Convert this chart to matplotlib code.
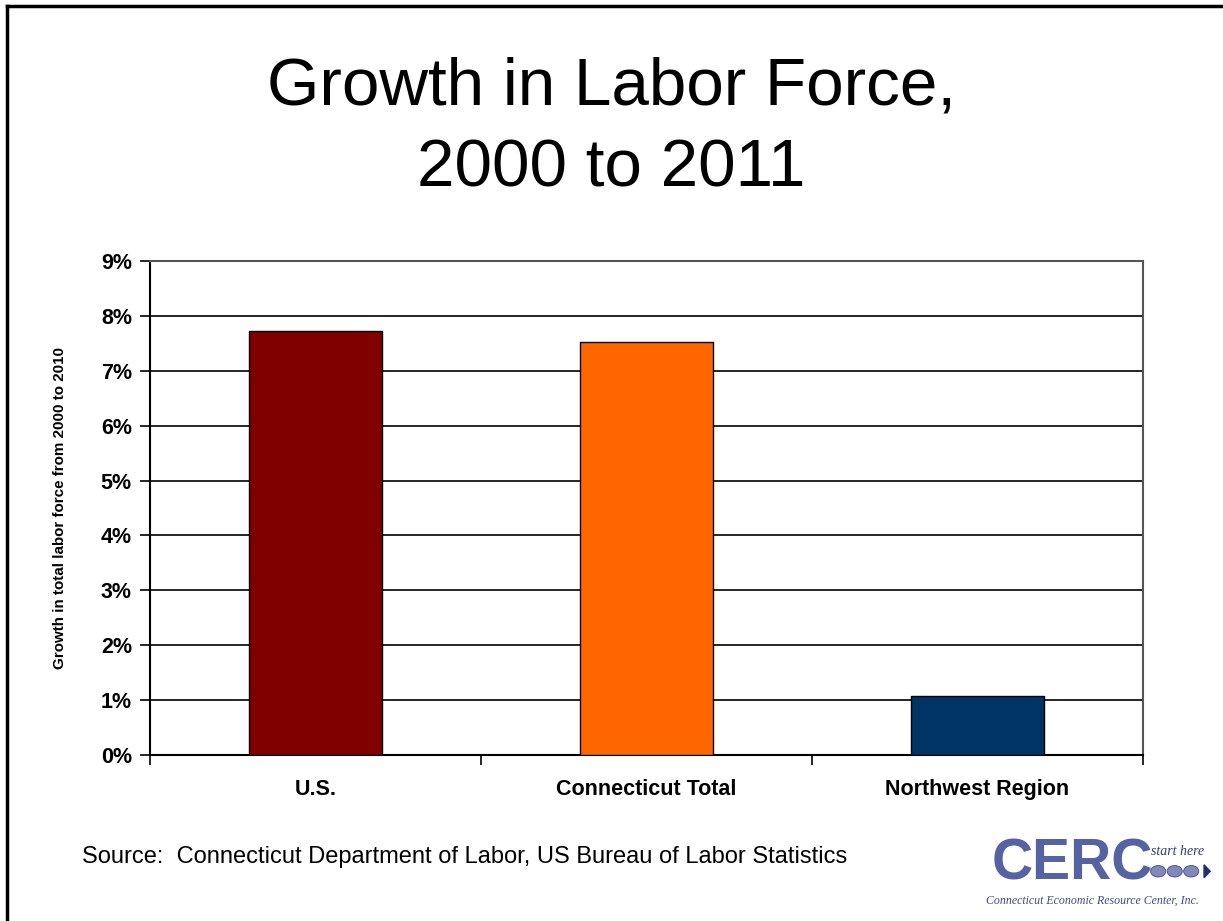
import matplotlib.pyplot as plt
import numpy as np
from matplotlib.lines import Line2D
from matplotlib.patches import Circle, Polygon

plt.rcParams["font.family"] = ["Liberation Sans", "DejaVu Sans"]

# data
categories = ["U.S.", "Connecticut Total", "Northwest Region"]
growth = [7.72, 7.52, 1.08]
bar_colors = ["#800000", "#FF6600", "#003366"]
yticks = np.arange(0, 10, 1)

fig = plt.figure(figsize=(12.23, 9.21), dpi=100)
fig.patch.set_facecolor("white")

# slide frame (left + top edges only are visible)
fig.add_artist(Line2D([0.0060, 0.0060], [0.0, 0.9935], transform=fig.transFigure, color="black", lw=2.5))
fig.add_artist(Line2D([0.0060, 1.0], [0.9935, 0.9935], transform=fig.transFigure, color="black", lw=2.5))

fig.text(0.5, 0.887, "Growth in Labor Force,", ha="center", va="baseline", fontsize=48.5)
fig.text(0.5, 0.797, "2000 to 2011", ha="center", va="baseline", fontsize=48.5)

ax = fig.add_axes([0.1226, 0.1802, 0.812, 0.5364])
x = np.arange(len(categories))
ax.bar(x, growth, width=0.40, color=bar_colors, edgecolor="black", linewidth=1.0, zorder=3)

ax.set_xlim(-0.5, len(categories) - 0.5)
ax.set_ylim(0, 9)
ax.set_yticks(yticks)
ax.set_yticklabels([f"{v}%" for v in yticks], fontsize=15.5, fontweight="bold")
ax.yaxis.grid(True, color="black", linewidth=1.2, zorder=0)
ax.set_axisbelow(True)

ax.set_xticks(x)
ax.set_xticklabels(categories, fontsize=15.5, fontweight="bold")
ax.tick_params(axis="x", length=0, pad=17)
ax.set_xticks(np.arange(-0.5, len(categories)), minor=True)
ax.tick_params(axis="x", which="minor", length=7, width=1.2, direction="out")
ax.tick_params(axis="y", length=7, width=1.2, direction="out", pad=6)

for s in ["left", "bottom"]:
    ax.spines[s].set_color("black")
    ax.spines[s].set_linewidth(1.5)
for s in ["top", "right"]:
    ax.spines[s].set_color("#555555")
    ax.spines[s].set_linewidth(1.5)

ax.set_ylabel("Growth in total labor force from 2000 to 2010", fontsize=10.9, fontweight="bold", labelpad=24)

fig.text(0.067, 0.069, "Source:  Connecticut Department of Labor, US Bureau of Labor Statistics",
         fontsize=17, ha="left", va="center")

# CERC logo, approximated with text and shapes
logo_blue = "#5563A3"
fig.text(0.811, 0.032, "CERC", fontsize=41, fontweight="bold", color=logo_blue,
         ha="left", va="bottom", family=["Liberation Sans"])
fig.text(0.941, 0.068, "start here", fontsize=10, style="italic", color="#2E3A78",
         ha="left", va="bottom", family=["Liberation Serif"])
for i in range(3):
    fig.add_artist(Circle((0.947 + i * 0.0135, 0.054), 0.0062, transform=fig.transFigure,
                          facecolor="#8088BC", edgecolor="#3C4A8A", lw=0.6))
fig.add_artist(Polygon([[0.9845, 0.047], [0.9845, 0.061], [0.9895, 0.054]], closed=True,
                       transform=fig.transFigure, color="#1F2E6E"))
fig.text(0.806, 0.015, "Connecticut Economic Resource Center, Inc.", fontsize=8.6, style="italic",
         color="#3C4A8A", ha="left", va="bottom", family=["Liberation Serif"])

fig.savefig("out.png", dpi=100)
